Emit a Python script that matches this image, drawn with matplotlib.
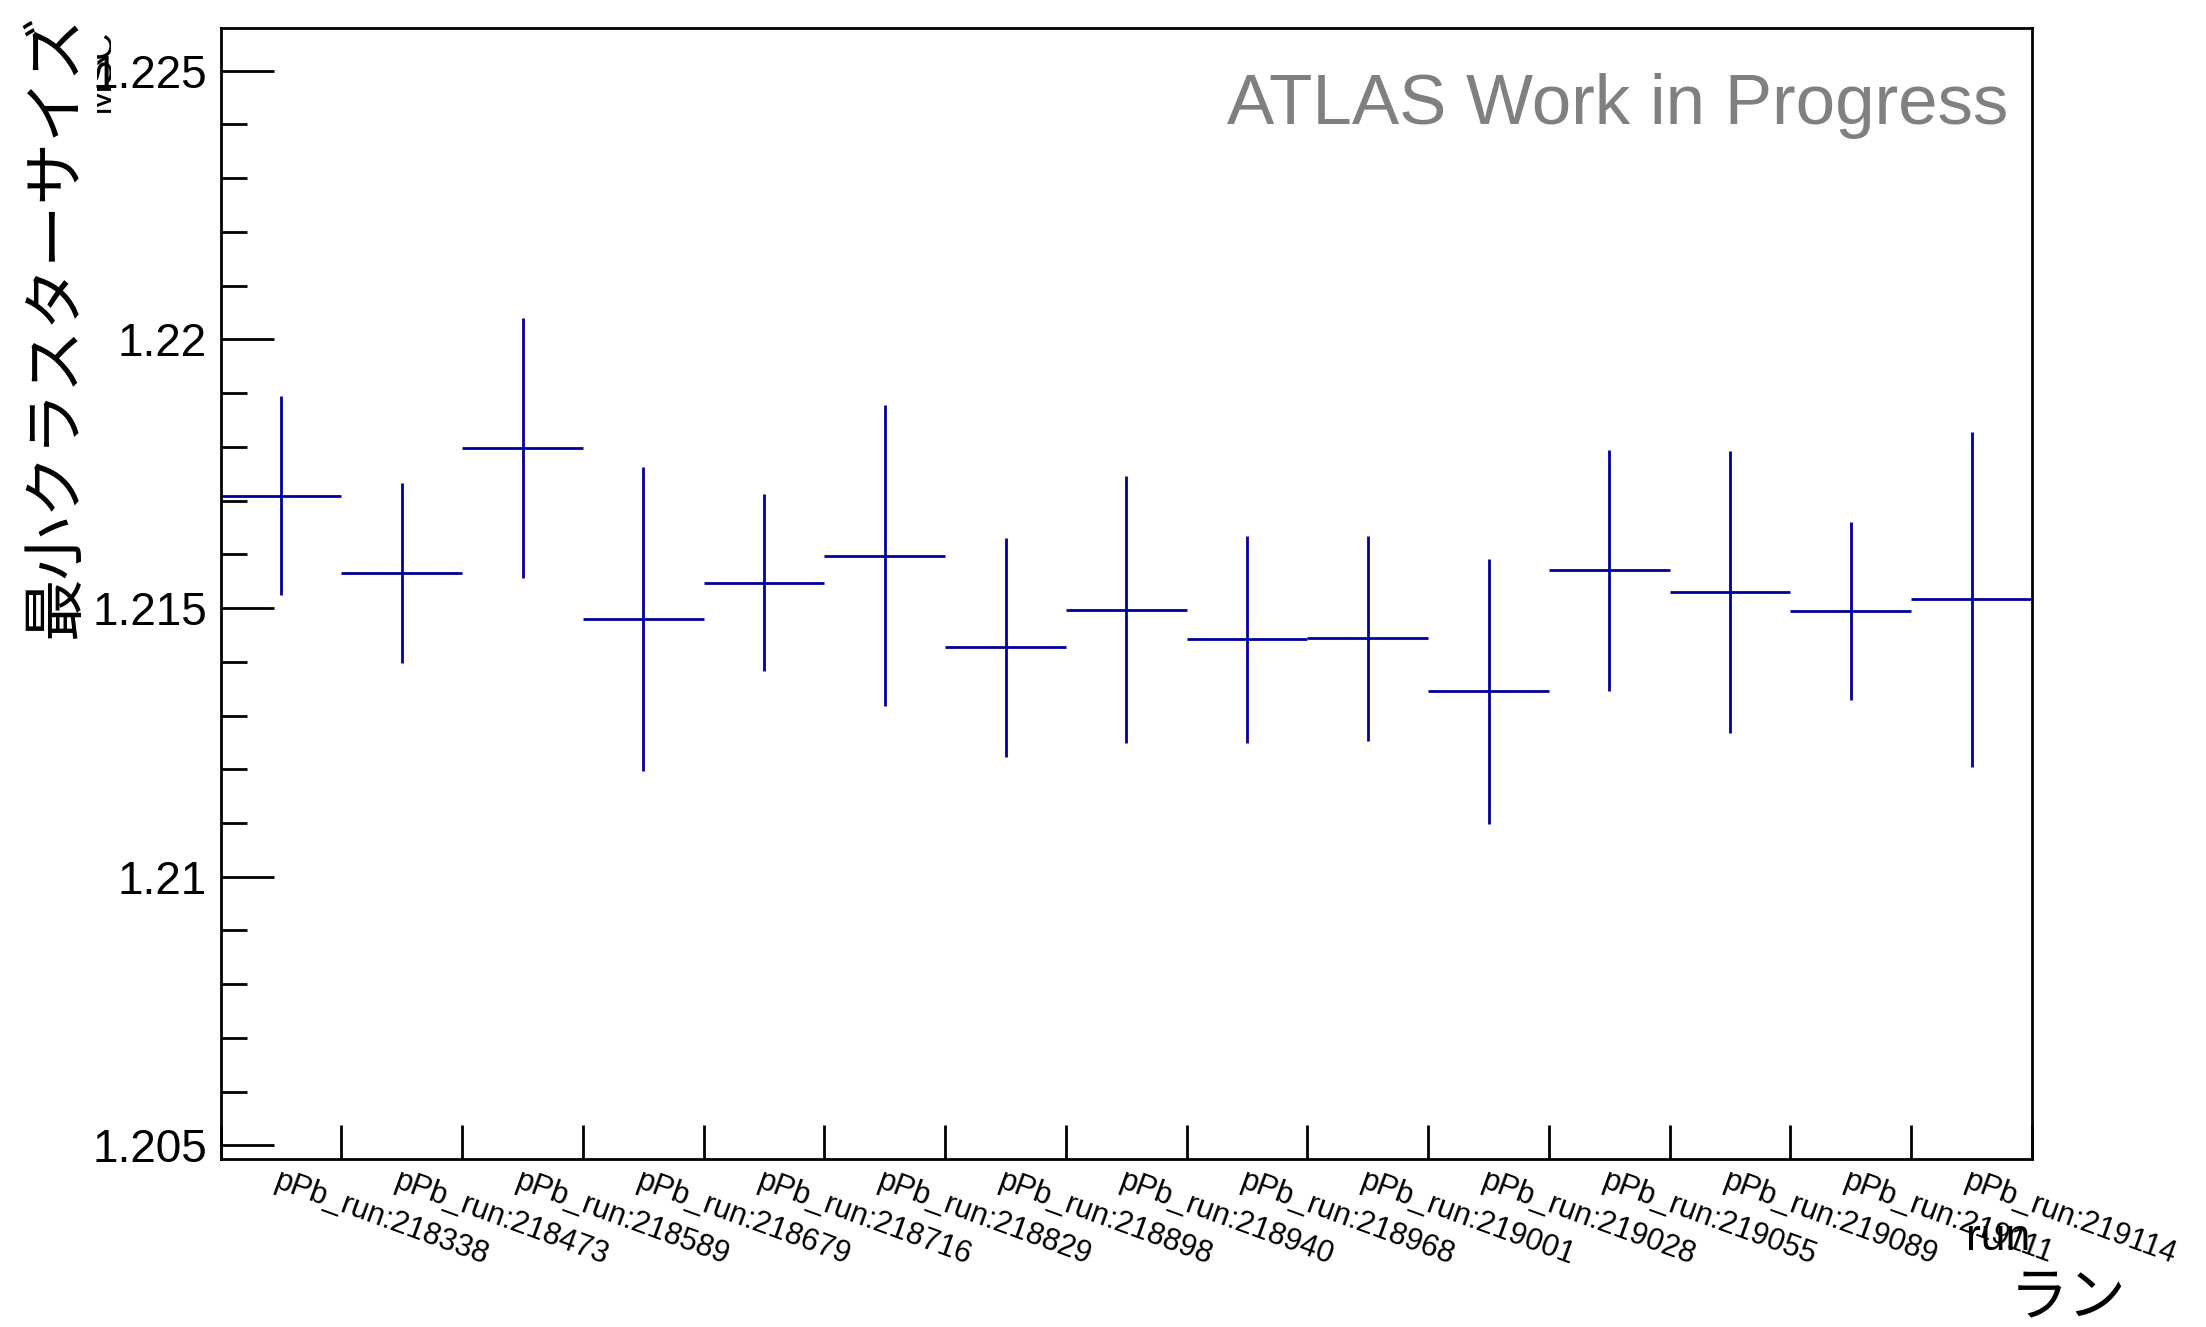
import matplotlib
matplotlib.use("Agg")
import matplotlib.pyplot as plt
from matplotlib.ticker import FixedLocator, MultipleLocator
from matplotlib.transforms import Bbox
import numpy as np

# run labels and per-run mean values (with errors)
runs = ["pPb_run:218338", "pPb_run:218473", "pPb_run:218589", "pPb_run:218679",
        "pPb_run:218716", "pPb_run:218829", "pPb_run:218898", "pPb_run:218940",
        "pPb_run:218968", "pPb_run:219001", "pPb_run:219028", "pPb_run:219055",
        "pPb_run:219089", "pPb_run:219111", "pPb_run:219114"]
msc = [1.21709, 1.21565, 1.21798, 1.21479, 1.21547, 1.21597, 1.21427, 1.21497,
       1.21442, 1.21444, 1.21345, 1.21570, 1.21530, 1.21494, 1.21516]
msc_err = [0.00185, 0.00168, 0.00242, 0.00283, 0.00165, 0.00280, 0.00204, 0.00248,
           0.00193, 0.00191, 0.00246, 0.00225, 0.00262, 0.00166, 0.00312]
ytick_vals = [1.205, 1.21, 1.215, 1.22, 1.225]
ytick_text = ["1.205", "1.21", "1.215", "1.22", "1.225"]

W, H = 2206, 1327
fig = plt.figure(figsize=(W / 100, H / 100), dpi=100)
ax = fig.add_axes([220.7 / W, 1 - 1158.7 / H, (2032 - 220.7) / W, (1158.7 - 28) / H])

sans = "Liberation Sans"
jp = ["Noto Sans CJK JP", "DejaVu Sans"]
blue = "#00009c"

x = np.arange(len(runs)) + 0.5
ax.errorbar(x, msc, yerr=msc_err, xerr=0.5, fmt="none", ecolor=blue,
            elinewidth=2, capsize=0)

ax.set_xlim(0, len(runs))
ax.set_ylim(1.204752, 1.225795)

for s in ax.spines.values():
    s.set_linewidth(2)

# bin edge ticks, labels hang from each bin centre
ax.set_xticks(np.arange(len(runs) + 1))
ax.set_xticklabels([])
ax.tick_params(axis="x", which="major", direction="in", length=24.5, width=2,
               top=False)
ax.xaxis.set_minor_locator(FixedLocator(x - 0.01))
ax.set_xticklabels(runs, minor=True, rotation=-20, ha="left", va="top",
                   rotation_mode="anchor", fontsize=22, family=sans)
ax.tick_params(axis="x", which="minor", length=0, pad=5)

ax.set_yticks(ytick_vals)
ax.set_yticklabels(ytick_text, fontsize=33, family=sans)
ax.yaxis.set_minor_locator(MultipleLocator(0.001))
ax.tick_params(axis="y", which="major", direction="in", length=38, width=2,
               pad=10, right=False)
ax.tick_params(axis="y", which="minor", direction="in", length=19, width=2,
               right=False)

fig.text(2008 / W, 1 - 124 / H, "ATLAS Work in Progress", fontsize=51,
         family=sans, color="#808080", ha="right", va="baseline")

# axis titles
fig.text(56 / W, 1 - 13 / H, "最小クラスターサイズ", rotation=90, fontsize=45,
         family=jp, ha="center", va="top")
t = fig.text(118 / W, 1 - 112 / H, "MSC", rotation=90, fontsize=27,
             family=sans, ha="right", va="bottom")
t.set_clip_box(Bbox.from_extents(97, H - 115, 111, H - 25))

fig.text(2030 / W, 1 - 1250 / H, "run", fontsize=32, family=sans,
         ha="right", va="baseline")
fig.text(2068 / W, 1 - 1299 / H, "ラン", fontsize=42, family=jp,
         ha="center", va="center")

fig.savefig("out.png", dpi=100)
